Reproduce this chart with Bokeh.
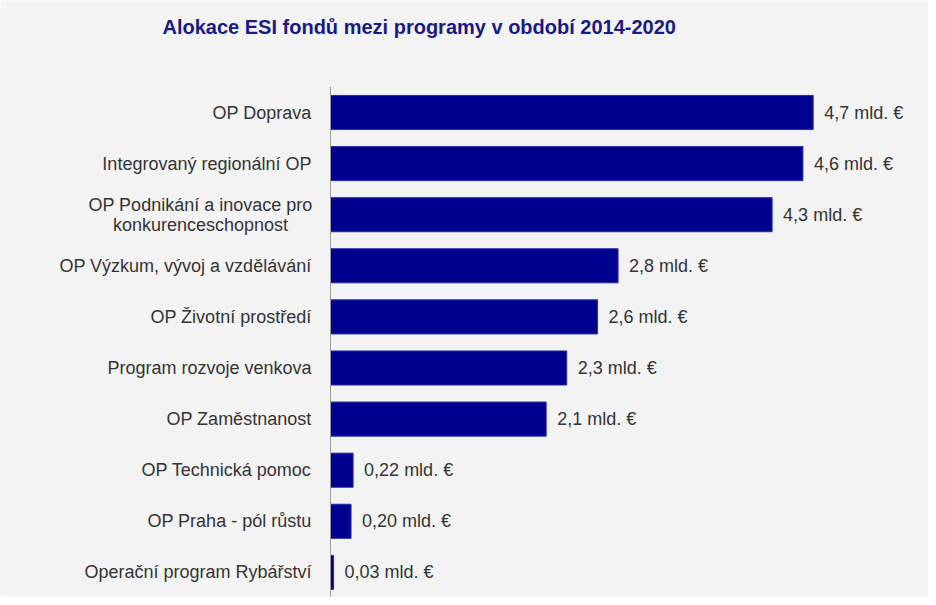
from bokeh.plotting import figure
from bokeh.models import ColumnDataSource, Range1d, Label
from bokeh.core.properties import value
from bokeh.embed import file_html
from bokeh.resources import INLINE

programs = [
    "OP Doprava",
    "Integrovaný regionální OP",
    "OP Podnikání a inovace pro\nkonkurenceschopnost",
    "OP Výzkum, vývoj a vzdělávání",
    "OP Životní prostředí",
    "Program rozvoje venkova",
    "OP Zaměstnanost",
    "OP Technická pomoc",
    "OP Praha - pól růstu",
    "Operační program Rybářství",
]
values = [4.7, 4.6, 4.3, 2.8, 2.6, 2.3, 2.1, 0.22, 0.20, 0.03]
value_labels = [
    "4,7 mld. €", "4,6 mld. €", "4,3 mld. €", "2,8 mld. €", "2,6 mld. €",
    "2,3 mld. €", "2,1 mld. €", "0,22 mld. €", "0,20 mld. €", "0,03 mld. €",
]
title_text = "Alokace ESI fondů mezi programy v období 2014-2020"

BG = "#f3f3f3"
FONT = "Liberation Sans"
W, H = 928, 597
AXIS_X = 330          # pixel position of the value axis within the figure
PX_PER_UNIT = 102.7   # horizontal scale
ROW_PX = 51.1         # row pitch
FIRST_ROW_PX = 112    # pixel centre of first row from top

n = len(programs)
ypos = [-i for i in range(n)]

src = ColumnDataSource(dict(y=ypos, prog=programs, val=values, lab=value_labels))

single = [i for i, s in enumerate(programs) if "\n" not in s]
multi = [i for i, s in enumerate(programs) if "\n" in s]
src_single = ColumnDataSource(dict(y=[ypos[i] for i in single], prog=[programs[i] for i in single]))
src_multi = ColumnDataSource(dict(y=[ypos[i] for i in multi], prog=[programs[i] for i in multi]))

x_start = -AXIS_X / PX_PER_UNIT
x_end = (W - AXIS_X) / PX_PER_UNIT
y_end = FIRST_ROW_PX / ROW_PX
y_start = -(H - FIRST_ROW_PX) / ROW_PX

p = figure(
    width=W, height=H,
    x_range=Range1d(x_start, x_end), y_range=Range1d(y_start, y_end),
    output_backend="svg", toolbar_location=None,
    min_border_left=0, min_border_right=0, min_border_top=0, min_border_bottom=0,
)
p.background_fill_color = BG
p.border_fill_color = BG
p.outline_line_color = None
p.xaxis.visible = False
p.yaxis.visible = False
p.xgrid.visible = False
p.ygrid.visible = False

# bars
p.hbar(y="y", right="val", left=0, height=0.667, source=src,
       fill_color="#00008f", line_color="#2a2aa8", line_width=1)

# category axis line
p.segment(x0=[0], y0=[ypos[0] + 0.5], x1=[0], y1=[ypos[-1] - 0.6],
          line_color="#9a9a9a", line_width=1)

# category labels
p.text(x=0, y="y", text="prog", source=src_single, x_offset=-19,
       text_baseline="middle", text_align="right",
       text_font=value(FONT), text_font_size="18px", text_color="#333333")
p.text(x=0, y="y", text="prog", source=src_multi, x_offset=-130,
       text_baseline="middle", text_align="center", text_line_height=1.0,
       text_font=value(FONT), text_font_size="18px", text_color="#333333")

# value labels
p.text(x="val", y="y", text="lab", source=src, x_offset=11,
       text_baseline="middle", text_align="left",
       text_font=value(FONT), text_font_size="18px", text_color="#333333")

title = Label(x=162, y=H - 15, x_units="screen", y_units="screen",
              text=title_text, text_font=FONT, text_font_size="20px",
              text_font_style="bold", text_color="#1a1a80",
              text_align="left", text_baseline="top")
p.add_layout(title)

open("out.html", "w").write(file_html(p, INLINE))
